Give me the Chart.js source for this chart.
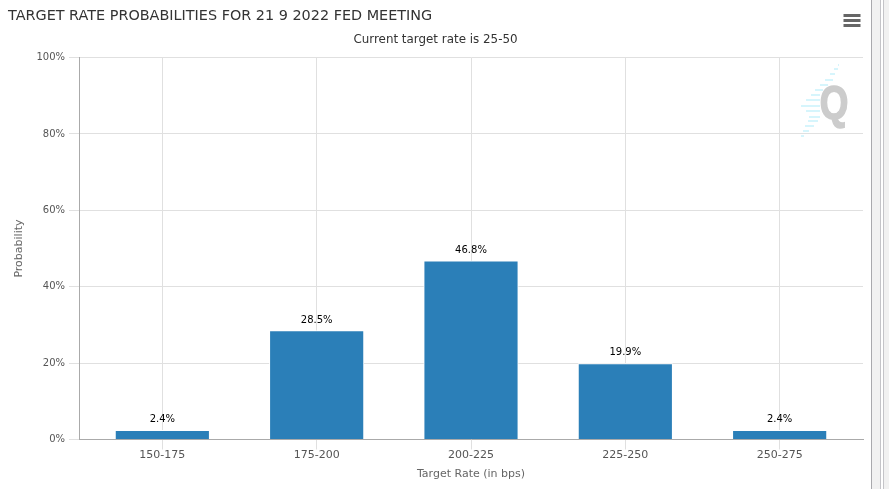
<!DOCTYPE html>
<html>
<head>
<meta charset="utf-8">
<title>Target rate probabilities</title>
<script src="https://cdn.jsdelivr.net/npm/chart.js@4"></script>
<style>
    html, body { margin: 0; padding: 0; background: #fff; overflow: hidden; }
    #wrap { width: 889px; height: 489px; }
</style>
</head>
<body>
<div id="wrap"><canvas id="rateChart" width="889" height="489"></canvas></div>
<script>
const categories = ['150-175', '175-200', '200-225', '225-250', '250-275'];
const probabilities = [2.4, 28.5, 46.8, 19.9, 2.4];
const yTicks = [0, 20, 40, 60, 80, 100];

const FONT = '"DejaVu Sans", sans-serif';

// window chrome on the right, hamburger menu and the Q watermark
const decorations = {
    id: 'decorations',
    beforeDraw(chart) {
        const c = chart.ctx;
        c.save();
        c.fillStyle = '#f1f1f1';
        c.fillRect(872, 0, 17, 489);
        c.fillStyle = '#ffffff';
        c.fillRect(881, 0, 2, 489);
        c.fillStyle = '#a9a9ad';
        c.fillRect(871, 0, 1, 489);
        c.fillStyle = '#c4c4c8';
        c.fillRect(880, 0, 1, 489);
        c.fillRect(883, 0, 1, 489);
        c.restore();
    },
    beforeDatasetsDraw(chart) {
        const c = chart.ctx;
        c.save();
        // watermark stripes
        c.fillStyle = '#d6f5fc';
        [[64, 838, 839], [68, 834, 838], [73, 830, 835], [79, 825, 833], [84, 820, 828],
         [89, 815, 823], [94, 811, 820], [99, 806, 820], [105, 801, 820], [110, 806, 820],
         [116, 809, 820], [120, 808, 818], [125, 805, 814], [130, 803, 809], [135, 801, 804]
        ].forEach(([y, x0, x1]) => c.fillRect(x0, y, x1 - x0, 2));
        c.fillStyle = '#cccccc';
        c.strokeStyle = '#cccccc';
        c.lineWidth = 1.5;
        c.font = 'bold 46px "Liberation Sans", sans-serif';
        c.textAlign = 'center';
        c.textBaseline = 'alphabetic';
        c.translate(834, 118);
        c.scale(0.8, 1.02);
        c.fillText('Q', 0, 0);
        c.strokeText('Q', 0, 0);
        c.restore();
    },
    afterDraw(chart) {
        const c = chart.ctx;
        c.save();
        c.fillStyle = '#666666';
        [14, 19, 24].forEach(y => c.fillRect(843.5, y, 17, 3));
        c.restore();
    }
};

// percentage labels above the bars
const valueLabels = {
    id: 'valueLabels',
    afterDatasetsDraw(chart) {
        const c = chart.ctx;
        const meta = chart.getDatasetMeta(0);
        c.save();
        c.fillStyle = '#000000';
        c.font = '10px ' + FONT;
        c.textAlign = 'center';
        c.textBaseline = 'alphabetic';
        meta.data.forEach((bar, i) => {
            c.fillText(probabilities[i].toFixed(1) + '%', bar.x, bar.y - 8);
        });
        c.restore();
    }
};

new Chart(document.getElementById('rateChart'), {
    type: 'bar',
    data: {
        datasets: [{
            label: 'Probability',
            data: probabilities.map((v, i) => ({ x: i, y: v })),
            backgroundColor: '#2b7fb8',
            borderColor: '#ffffff',
            borderWidth: 1,
            barThickness: 94.5
        }]
    },
    options: {
        responsive: false,
        animation: false,
        layout: { padding: { left: 8, right: 26, top: 8, bottom: 0 } },
        plugins: {
            legend: { display: false },
            tooltip: { enabled: false },
            title: {
                display: true,
                text: 'TARGET RATE PROBABILITIES FOR 21 9 2022 FED MEETING',
                align: 'start',
                color: '#333333',
                font: { family: FONT, size: 14.4, weight: 'normal' },
                padding: { top: 0, bottom: 7 }
            },
            subtitle: {
                display: true,
                text: 'Current target rate is 25-50',
                color: '#333333',
                font: { family: FONT, size: 11.9, weight: 'normal' },
                padding: { top: 0, bottom: 11 }
            }
        },
        scales: {
            x: {
                type: 'linear',
                offset: false,
                min: -0.54,
                max: 4.54,
                afterBuildTicks(scale) {
                    scale.ticks = categories.map((_, i) => ({ value: i }));
                },
                afterFit(scale) { scale.height = 49.5; },
                ticks: {
                    callback: value => categories[value],
                    color: '#555555',
                    font: { family: FONT, size: 11 },
                    padding: -1,
                    maxRotation: 0,
                    autoSkip: false
                },
                grid: { color: '#e0e0e0', tickLength: 10, offset: false },
                border: { color: '#aaaaaa', width: 1 },
                title: {
                    display: true,
                    text: 'Target Rate (in bps)',
                    color: '#666666',
                    font: { family: FONT, size: 11 },
                    padding: { top: 0, bottom: 8 }
                }
            },
            y: {
                min: 0,
                max: 100,
                afterBuildTicks(scale) {
                    scale.ticks = yTicks.map(v => ({ value: v }));
                },
                afterFit(scale) { scale.width = 71; },
                ticks: {
                    callback: value => value + '%',
                    color: '#555555',
                    font: { family: FONT, size: 10 },
                    padding: 4
                },
                grid: { color: '#e0e0e0', tickLength: 10 },
                border: { color: '#aaaaaa', width: 1 },
                title: {
                    display: true,
                    text: 'Probability',
                    color: '#666666',
                    font: { family: FONT, size: 11 },
                    padding: { top: 5, bottom: 0 }
                }
            }
        }
    },
    plugins: [decorations, valueLabels]
});
</script>
</body>
</html>
